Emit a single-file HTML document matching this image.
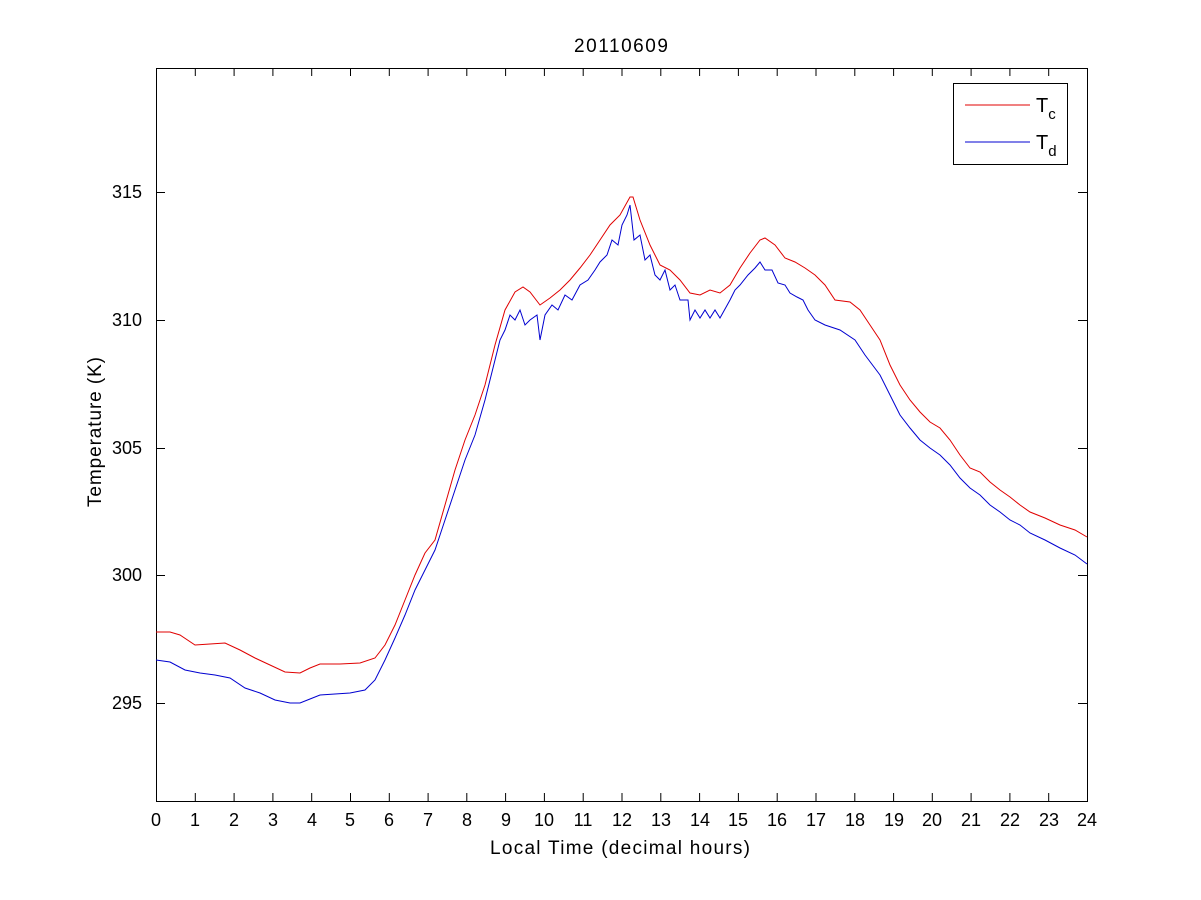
<!DOCTYPE html>
<html><head><meta charset="utf-8"><style>body{margin:0;background:#fff}svg{display:block}</style></head><body>
<svg width="1201" height="900" xmlns="http://www.w3.org/2000/svg" font-family="Liberation Sans, Arial, sans-serif">
<rect width="1201" height="900" fill="#fff"/>
<g stroke="#000" stroke-width="1">
<rect x="156.5" y="68.5" width="931" height="733" fill="none"/>
<path d="M156.5 801v-8M195.3 801v-8M234.1 801v-8M272.9 801v-8M311.7 801v-8M350.5 801v-8M389.3 801v-8M428.1 801v-8M466.8 801v-8M505.6 801v-8M544.4 801v-8M583.2 801v-8M622 801v-8M660.8 801v-8M699.6 801v-8M738.4 801v-8M777.2 801v-8M816 801v-8M854.8 801v-8M893.6 801v-8M932.3 801v-8M971.1 801v-8M1009.9 801v-8M1048.7 801v-8M1087.5 801v-8
M156.5 68v8M195.3 68v8M234.1 68v8M272.9 68v8M311.7 68v8M350.5 68v8M389.3 68v8M428.1 68v8M466.8 68v8M505.6 68v8M544.4 68v8M583.2 68v8M622 68v8M660.8 68v8M699.6 68v8M738.4 68v8M777.2 68v8M816 68v8M854.8 68v8M893.6 68v8M932.3 68v8M971.1 68v8M1009.9 68v8M1048.7 68v8M1087.5 68v8
M156 703.5h9M156 575.5h9M156 448.5h9M156 320.5h9M156 192.5h9
M1087 703.5h-9M1087 575.5h-9M1087 448.5h-9M1087 320.5h-9M1087 192.5h-9"/>
</g>
<g font-size="18" fill="#000" text-anchor="middle">
<text x="156" y="826">0</text><text x="195" y="826">1</text><text x="234" y="826">2</text><text x="273" y="826">3</text><text x="312" y="826">4</text><text x="350" y="826">5</text><text x="389" y="826">6</text><text x="428" y="826">7</text><text x="467" y="826">8</text><text x="506" y="826">9</text><text x="544" y="826">10</text><text x="583" y="826">11</text><text x="622" y="826">12</text><text x="661" y="826">13</text><text x="700" y="826">14</text><text x="738" y="826">15</text><text x="777" y="826">16</text><text x="816" y="826">17</text><text x="855" y="826">18</text><text x="894" y="826">19</text><text x="932" y="826">20</text><text x="971" y="826">21</text><text x="1010" y="826">22</text><text x="1049" y="826">23</text><text x="1087" y="826">24</text>
</g>
<g font-size="18" fill="#000" text-anchor="end">
<text x="142" y="709">295</text><text x="142" y="581">300</text><text x="142" y="454">305</text><text x="142" y="326">310</text><text x="142" y="198">315</text>
</g>
<text x="621" y="52" font-size="19" text-anchor="middle" textLength="94">20110609</text>
<text x="620" y="854" font-size="19" text-anchor="middle" textLength="260">Local Time (decimal hours)</text>
<text transform="translate(101,432) rotate(-90)" font-size="19" text-anchor="middle" textLength="150">Temperature (K)</text>
<polyline fill="none" stroke="#e00000" stroke-width="1" points="156,632 170,632 180,635 195,645 210,644 225,643 240,650 255,658 270,665 285,672 300,673 310,668 320,664 340,664 360,663 375,658 385,645 395,625 405,600 415,575 425,553 435,540 445,505 455,470 465,440 475,415 485,385 495,345 505,310 515,292 523,287 530,292 540,305 550,298 560,290 570,280 580,268 590,255 600,240 610,225 620,215 630,197 633,197 640,220 650,245 660,265 670,270 680,280 690,293 700,295 710,290 720,293 730,285 740,268 750,253 760,240 765,238 775,245 785,258 795,262 805,268 815,275 825,285 835,300 850,302 860,310 870,325 880,340 890,365 900,385 910,400 920,412 930,422 940,428 950,440 960,455 970,468 980,472 990,482 1000,490 1010,497 1020,505 1030,512 1045,518 1060,525 1075,530 1087,537"/>
<polyline fill="none" stroke="#0000d0" stroke-width="1" points="156,660 170,662 185,670 200,673 215,675 230,678 245,688 260,693 275,700 290,703 300,703 310,699 320,695 335,694 350,693 365,690 375,680 385,660 395,638 405,615 415,590 425,570 435,550 445,520 455,490 465,460 475,435 485,400 495,360 500,340 505,330 510,315 515,320 520,310 525,325 530,320 537,315 540,340 545,315 552,305 558,310 565,295 572,300 580,285 588,280 595,270 600,262 607,255 612,240 618,245 622,225 627,215 630,205 634,240 640,235 645,260 650,255 655,275 660,280 665,270 670,290 675,285 680,300 688,300 690,320 695,310 700,318 705,310 710,318 715,310 720,318 730,300 735,290 740,285 748,275 755,268 760,262 765,270 772,270 778,283 785,285 790,293 797,297 803,300 808,310 815,320 825,325 840,330 855,340 865,355 880,375 890,395 900,415 910,428 920,440 930,448 940,455 950,465 960,478 970,488 980,495 990,505 1000,512 1010,520 1020,525 1030,533 1045,540 1060,548 1075,555 1087,564"/>
<rect x="953.5" y="83.5" width="114" height="81" fill="#fff" stroke="#000"/>
<line x1="965" y1="105" x2="1030" y2="105" stroke="#e00000"/>
<line x1="965" y1="142" x2="1030" y2="142" stroke="#0000d0"/>
<text x="1036" y="112" font-size="20">T<tspan font-size="15" dy="7">c</tspan></text>
<text x="1036" y="149" font-size="20">T<tspan font-size="15" dy="7">d</tspan></text>
</svg>
</body></html>
